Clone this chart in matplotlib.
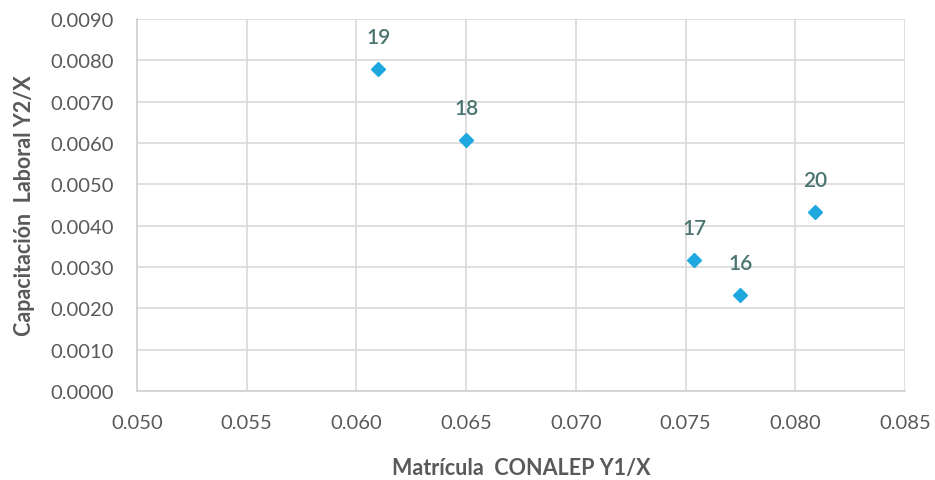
import matplotlib
matplotlib.use("Agg")
import matplotlib.pyplot as plt
from matplotlib.ticker import FixedLocator, FormatStrFormatter

plt.rcParams['font.family'] = ['Lato', 'DejaVu Sans']

labels = ["19", "18", "20", "17", "16"]
x_vals = [0.0610, 0.0650, 0.0809, 0.0754, 0.0775]
y_vals = [0.00779, 0.00607, 0.00433, 0.00317, 0.00232]

x_ticks = [0.050, 0.055, 0.060, 0.065, 0.070, 0.075, 0.080, 0.085]
y_ticks = [0.0000, 0.0010, 0.0020, 0.0030, 0.0040, 0.0050, 0.0060, 0.0070, 0.0080, 0.0090]

fig = plt.figure(figsize=(9.35, 4.81), dpi=100)
ax = fig.add_axes([137/935, 1 - 392/481, (905-137)/935, (392-20)/481])

ax.plot(x_vals, y_vals, linestyle='none', marker='D', markersize=7.5,
        color='#1fa8e0', zorder=3, clip_on=False)
for lab, xv, yv in zip(labels, x_vals, y_vals):
    ax.annotate(lab, (xv, yv), xytext=(0, 16), textcoords='offset points',
                ha='center', va='bottom', fontsize=15, color='#4a7470',
                fontweight='semibold')

ax.set_xlim(0.050, 0.085)
ax.set_ylim(0.0, 0.0090)
ax.xaxis.set_major_locator(FixedLocator(x_ticks))
ax.yaxis.set_major_locator(FixedLocator(y_ticks))
ax.xaxis.set_major_formatter(FormatStrFormatter('%.3f'))
ax.yaxis.set_major_formatter(FormatStrFormatter('%.4f'))

ax.grid(True, color='#d9d9d9', linewidth=1.2, zorder=0)
ax.set_axisbelow(True)
for s in ['top', 'right']:
    ax.spines[s].set_visible(False)
for s in ['left', 'bottom']:
    ax.spines[s].set_color('#d0d0d0')
    ax.spines[s].set_linewidth(1.2)
ax.tick_params(length=0, labelsize=14.5, colors='#595959')
ax.tick_params(axis='y', pad=17)
ax.tick_params(axis='x', pad=16.5)

ax.set_xlabel("Matrícula  CONALEP Y1/X", fontsize=15.5, color='#595959',
              fontweight='bold', labelpad=19)
ax.set_ylabel("Capacitación  Laboral Y2/X", fontsize=15.5, color='#595959',
              fontweight='bold', labelpad=11)

fig.savefig("out.png", dpi=100)
